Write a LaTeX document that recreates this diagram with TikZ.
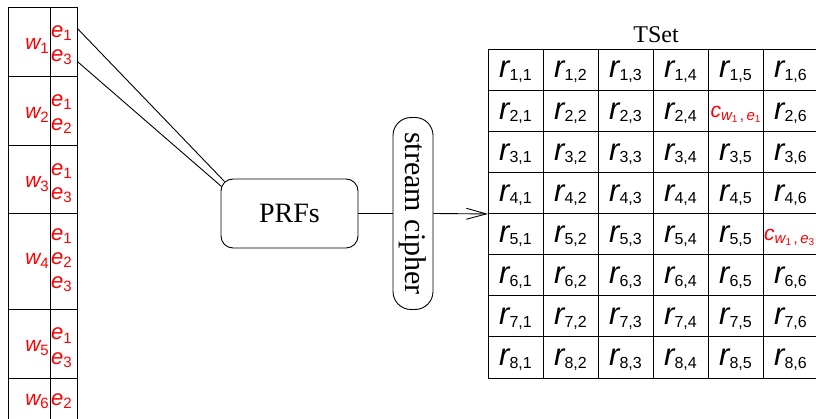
\documentclass[tikz,border=0pt]{standalone}
\usepackage{fontspec}
\setmainfont{Liberation Serif}
\newfontfamily\sffam{Liberation Sans}
\usetikzlibrary{arrows.meta,calc}

% table entry r_{i,j}
\newcommand\tcell[2]{{\sffam\fontsize{31}{31}\selectfont\itshape r}{\sffam\fontsize{16}{16}\selectfont\raisebox{-2.5pt}{#1,#2}}}
% ciphertext entry c_{w_1,e_k}
\newcommand\cwe[1]{{\sffam\color{red}{\fontsize{21}{21}\selectfont\itshape c}\raisebox{-3.5pt}{\fontsize{15}{15}\selectfont\itshape w}\raisebox{-5.5pt}{\fontsize{10}{10}\selectfont 1}\hspace{2.5pt}\raisebox{-3.5pt}{\fontsize{15}{15}\selectfont ,}\hspace{2.5pt}\raisebox{-3.5pt}{\fontsize{15}{15}\selectfont\itshape e}\raisebox{-5.5pt}{\fontsize{10}{10}\selectfont #1}}}
% keyword and document labels
\newcommand\wlab[1]{{\sffam\color{red}{\fontsize{21}{21}\selectfont\itshape w}\raisebox{-3.5pt}{\fontsize{15}{15}\selectfont #1}}}
\newcommand\elab[1]{{\sffam\color{red}{\fontsize{22}{22}\selectfont\itshape e}\raisebox{-3pt}{\fontsize{15}{15}\selectfont #1}}}

\begin{document}
\begin{tikzpicture}[x=1pt,y=-1pt,
  ln/.style={line width=0.9pt},
  lbl/.style={inner sep=0pt},
  boxr/.style={draw,line width=0.9pt,inner sep=0pt}]
\useasboundingbox (0,0) rectangle (816,419);
\clip (0,0) rectangle (816,419);

% ---- inverted index column ----
\node[boxr,minimum width=69pt,minimum height=414pt,anchor=north west] (col) at (8,7) {};
\draw[ln] (50,7) -- (50,421);
\foreach \yy in {76,145,213,309,378} \draw[ln] (8,\yy) -- (77,\yy);

\node[lbl,anchor=base east] (w1) at (49,50) {\wlab{1}};
\node[lbl,anchor=base west] (e11) at (51,38) {\elab{1}};
\node[lbl,anchor=base west] (e13) at (51,62) {\elab{3}};

\node[lbl,anchor=base east] (w2) at (49,119) {\wlab{2}};
\node[lbl,anchor=base west] (e21) at (51,107) {\elab{1}};
\node[lbl,anchor=base west] (e22) at (51,131) {\elab{2}};

\node[lbl,anchor=base east] (w3) at (49,188) {\wlab{3}};
\node[lbl,anchor=base west] (e31) at (51,176) {\elab{1}};
\node[lbl,anchor=base west] (e33) at (51,200) {\elab{3}};

\node[lbl,anchor=base east] (w4) at (49,265) {\wlab{4}};
\node[lbl,anchor=base west] (e41) at (51,241) {\elab{1}};
\node[lbl,anchor=base west] (e42) at (51,265) {\elab{2}};
\node[lbl,anchor=base west] (e43) at (51,289) {\elab{3}};

\node[lbl,anchor=base east] (w5) at (49,352) {\wlab{5}};
\node[lbl,anchor=base west] (e51) at (51,340) {\elab{1}};
\node[lbl,anchor=base west] (e53) at (51,364) {\elab{3}};

\node[lbl,anchor=base east] (w6) at (49,405) {\wlab{6}};
\node[lbl,anchor=base west] (e62) at (51,405) {\elab{2}};

% ---- PRFs and stream cipher ----
\node[draw,line width=0.9pt,rounded corners=12pt,minimum width=137pt,minimum height=69pt,
      font=\fontsize{28}{28}\selectfont] (prf) at (289.5,213.5) {PRFs};
\node[draw,line width=0.9pt,rounded corners=18pt,rotate=-90,minimum width=192pt,minimum height=40pt,
      inner sep=0pt,font=\fontsize{30}{30}\selectfont] (sc) at (413,213.5) {stream cipher};

\coordinate (in1) at ($(prf.north west)+(4,3)$);
\coordinate (in2) at ($(prf.north west)+(1,8)$);
\draw[ln] ($(e11.base -| col.east)+(0,-9)$) -- (in1);
\draw[ln] (e13.base -| col.east) -- (in2);

% ---- TSet table ----
\node[boxr,minimum width=330pt,minimum height=329pt,anchor=north west] (tset) at (488,49) {};
\node[anchor=base,inner sep=0pt,font=\fontsize{24}{24}\selectfont] (tname) at (656,43) {TSet};
\foreach \j in {1,...,5} \draw[ln] ({488+55*\j},49) -- ({488+55*\j},378);
\foreach \i in {1,...,7} \draw[ln] (488,{49+41.125*\i}) -- (818,{49+41.125*\i});

\foreach \i in {1,...,8}{
  \foreach \j in {1,...,6}{
    \pgfmathtruncatemacro\code{10*\i+\j}
    \ifnum\code=25\relax\else\ifnum\code=56\relax\else
      \node[lbl,anchor=base] (r\i\j) at ({488+55*(\j-0.5)},{49+41.125*(\i-1)+29}) {\tcell{\i}{\j}};
    \fi\fi
  }
}
\node[lbl,anchor=base] (c25) at ({488+55*4.5},{49+41.125*1+27}) {\cwe{1}};
\node[lbl,anchor=base west] (c56) at (764,{49+41.125*4+27}) {\cwe{3}};

% ---- flow ----
\draw[ln] (prf.east) -- (sc.south);
\draw[ln,-{Straight Barb[length=20pt,width=11pt,line width=0.9pt]}] (sc.north) -- (tset.west);
\end{tikzpicture}
\end{document}
